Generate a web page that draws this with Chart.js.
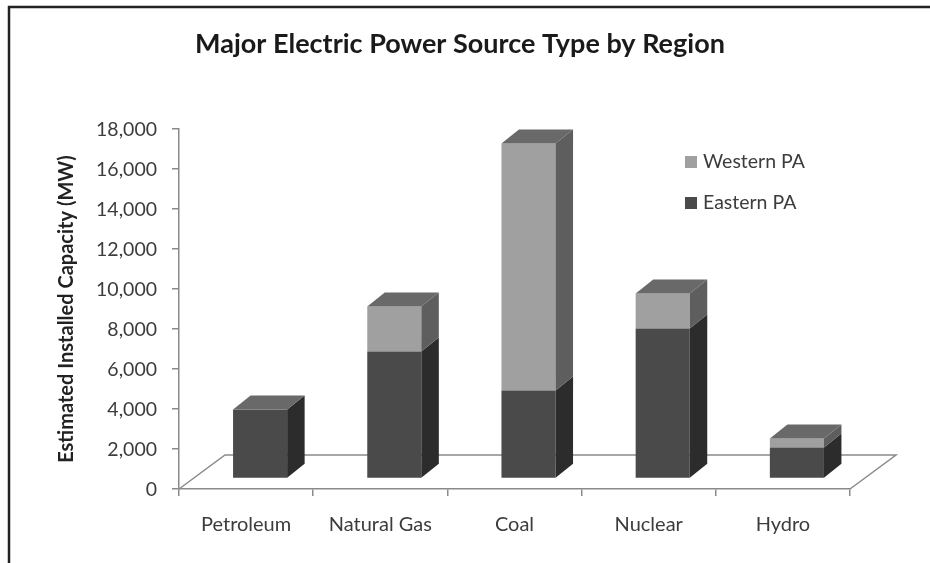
<!DOCTYPE html>
<html>
<head>
<meta charset="utf-8">
<title>Major Electric Power Source Type by Region</title>
<script src="https://cdn.jsdelivr.net/npm/chart.js@4"></script>
<style>
  html, body { margin: 0; padding: 0; background: #fff; }
  canvas { display: block; }
</style>
</head>
<body>
<canvas id="powerChart" width="930" height="563"></canvas>
<script>
const categories = ['Petroleum', 'Natural Gas', 'Coal', 'Nuclear', 'Hydro'];
const easternPA = [3450, 6350, 4400, 7500, 1550];
const westernPA = [0, 2250, 12350, 1750, 450];

const axisColor = '#8a8a8a';
const textColor = '#3c3c3c';
const fontName = 'Lato';

// how far the bars sit off the axis corner, and the size of the fake 3d faces
const barShift = { x: 14, y: -10.5 };
const barDepth = { x: 17.5, y: 14 };
const floorDepth = { x: 46, y: 34 };

const faces = {
    'Eastern PA': { front: '#4a4a4a', side: '#2c2c2c' },
    'Western PA': { front: '#a0a0a0', side: '#5e5e5e' }
};
const topColor = '#696969';

const fake3d = {
    id: 'fake3d',
    beforeDraw(chart) {
        const c = chart.ctx;
        c.save();
        c.fillStyle = '#fff';
        c.fillRect(0, 0, chart.width, chart.height);

        // outer frame, only left and top show in the picture
        c.strokeStyle = '#222';
        c.lineWidth = 2.5;
        c.beginPath();
        c.moveTo(9, chart.height);
        c.lineTo(9, 7);
        c.lineTo(chart.width, 7);
        c.stroke();

        c.fillStyle = '#1a1a1a';
        c.font = 'bold 27px ' + fontName;
        c.textAlign = 'center';
        c.textBaseline = 'middle';
        c.fillText('Major Electric Power Source Type by Region', 460, 44);
        c.restore();
    },
    beforeDatasetsDraw(chart) {
        const c = chart.ctx;
        const a = chart.chartArea;
        c.save();
        // floor of the plot
        c.strokeStyle = axisColor;
        c.lineWidth = 1.5;
        c.beginPath();
        c.moveTo(a.left, a.bottom);
        c.lineTo(a.left + floorDepth.x, a.bottom - floorDepth.y);
        c.lineTo(a.right + floorDepth.x, a.bottom - floorDepth.y);
        c.lineTo(a.right, a.bottom);
        c.stroke();
        c.translate(barShift.x, barShift.y);
    },
    afterDatasetsDraw(chart) {
        const c = chart.ctx;
        const tops = {};
        chart.data.datasets.forEach((ds, i) => {
            chart.getDatasetMeta(i).data.forEach((bar, j) => {
                const p = bar.getProps(['x', 'y', 'base', 'width'], true);
                const right = p.x + p.width / 2;
                if (p.base - p.y > 0) {
                    c.fillStyle = faces[ds.label].side;
                    c.beginPath();
                    c.moveTo(right, p.base);
                    c.lineTo(right + barDepth.x, p.base - barDepth.y);
                    c.lineTo(right + barDepth.x, p.y - barDepth.y);
                    c.lineTo(right, p.y);
                    c.closePath();
                    c.fill();
                }
                if (!tops[j] || p.y < tops[j].y) tops[j] = p;
            });
        });
        Object.values(tops).forEach(p => {
            const left = p.x - p.width / 2;
            const right = p.x + p.width / 2;
            c.fillStyle = topColor;
            c.beginPath();
            c.moveTo(left, p.y);
            c.lineTo(left + barDepth.x, p.y - barDepth.y);
            c.lineTo(right + barDepth.x, p.y - barDepth.y);
            c.lineTo(right, p.y);
            c.closePath();
            c.fill();
        });
        c.restore();
    },
    afterDraw(chart) {
        // legend, western first like the stack order
        const c = chart.ctx;
        const rows = [
            { label: 'Western PA', y: 162 },
            { label: 'Eastern PA', y: 203 }
        ];
        c.save();
        c.font = '19.5px ' + fontName;
        c.textBaseline = 'middle';
        c.textAlign = 'left';
        rows.forEach(r => {
            c.fillStyle = faces[r.label].front;
            c.fillRect(685, r.y - 6, 12, 12);
            c.fillStyle = textColor;
            c.fillText(r.label, 703, r.y);
        });
        c.restore();
    }
};

new Chart(document.getElementById('powerChart').getContext('2d'), {
    type: 'bar',
    plugins: [fake3d],
    data: {
        labels: categories,
        datasets: [
            {
                label: 'Eastern PA',
                data: easternPA,
                backgroundColor: faces['Eastern PA'].front,
                stack: 'pa'
            },
            {
                label: 'Western PA',
                data: westernPA,
                backgroundColor: faces['Western PA'].front,
                stack: 'pa'
            }
        ]
    },
    options: {
        responsive: false,
        animation: false,
        devicePixelRatio: 1,
        layout: { padding: { top: 129, right: 80, left: 0, bottom: 0 } },
        plugins: {
            legend: { display: false },
            tooltip: { enabled: false }
        },
        categoryPercentage: 1,
        barPercentage: 0.403,
        scales: {
            x: {
                stacked: true,
                afterFit(scale) { scale.height = 74; },
                border: { color: axisColor, width: 1.5 },
                grid: { drawOnChartArea: false, color: axisColor, lineWidth: 1.5, tickLength: 7 },
                ticks: {
                    color: textColor,
                    padding: 17,
                    maxRotation: 0,
                    font: { family: fontName, size: 20 }
                }
            },
            y: {
                stacked: true,
                min: 0,
                max: 18000,
                afterFit(scale) { scale.width = 179; },
                border: { color: axisColor, width: 1.5 },
                grid: { drawOnChartArea: false, color: axisColor, lineWidth: 1.5, tickLength: 7 },
                ticks: {
                    stepSize: 2000,
                    color: textColor,
                    padding: 15,
                    labelOffset: 1,
                    font: { family: fontName, size: 19.5 },
                    callback: v => v.toLocaleString('en-US')
                },
                title: {
                    display: true,
                    text: 'Estimated Installed Capacity (MW)',
                    color: '#222',
                    padding: { top: 55, bottom: 0 },
                    font: { family: fontName, size: 20, weight: 'bold' }
                }
            }
        }
    }
});
</script>
</body>
</html>
